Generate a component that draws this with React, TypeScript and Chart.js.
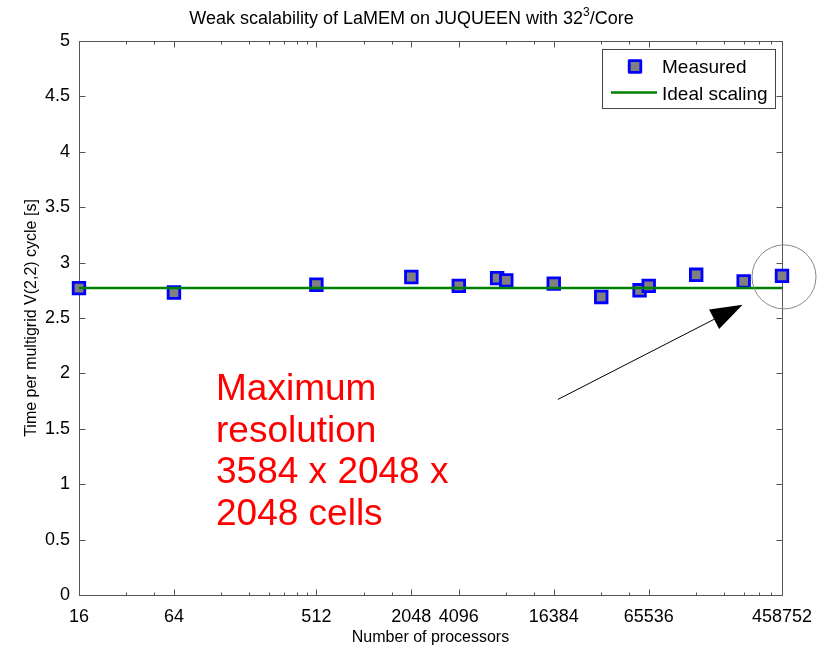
import React, { useEffect, useRef } from 'react';
import { Chart, registerables } from 'chart.js';

Chart.register(...registerables);

// Weak-scaling runs: processor count and time per V(2,2) multigrid cycle
const processors = [16, 64, 512, 2048, 4096, 7168, 8192, 16384, 32768, 57344, 65536, 131072, 262144, 458752];
const measuredTime = [2.77, 2.73, 2.80, 2.87, 2.79, 2.86, 2.84, 2.81, 2.69, 2.75, 2.79, 2.89, 2.83, 2.88];
const idealTime = 2.77;
const idealRange = [16, 458752];

// Axis ticks
const xTickValues = [16, 64, 512, 2048, 4096, 16384, 65536, 458752];
const xMinorTickValues = [32, 48, 128, 192, 256, 320, 384, 448, 1024, 1536, 8192, 12288, 32768, 49152, 131072, 196608, 262144, 327680, 393216];
const yTickValues = [0, 0.5, 1, 1.5, 2, 2.5, 3, 3.5, 4, 4.5, 5];

// Texts
const titleMain = 'Weak scalability of LaMEM on JUQUEEN with 32';
const titleSup = '3';
const titleEnd = '/Core';
const xAxisTitle = 'Number of processors';
const yAxisTitle = 'Time per multigrid V(2,2) cycle [s]';
const legendLabels = ['Measured', 'Ideal scaling'];
const noteLines = ['Maximum', 'resolution', '3584 x 2048 x', '2048 cells'];

// Annotation anchors in data units (processors, seconds)
const noteAnchor = { x: 120, y: 1.76 };
const arrowTail = { x: 17400, y: 1.765 };
const arrowTip = { x: 258000, y: 2.62 };

const FONT = '"Liberation Sans", Arial, Helvetica, sans-serif';
const MARKER_BLUE = '#0000ff';
const MARKER_FILL = '#808080';
const IDEAL_GREEN = '#008000';
const FRAME = '#555555';

function drawMarker(ctx: CanvasRenderingContext2D, x: number, y: number) {
  const s = 11.6;
  ctx.save();
  ctx.lineJoin = 'round';
  ctx.fillStyle = MARKER_FILL;
  ctx.strokeStyle = MARKER_BLUE;
  ctx.lineWidth = 2.8;
  ctx.beginPath();
  ctx.rect(x - s / 2, y - s / 2, s, s);
  ctx.fill();
  ctx.stroke();
  ctx.restore();
}

const figureDecor = {
  id: 'figureDecor',
  beforeDatasetsDraw(chart: any) {
    const { ctx, chartArea: a, scales } = chart;
    const xs = scales.x;
    const ys = scales.y;
    ctx.save();

    // axes box
    const L = a.left + 0.5;
    const R = a.right + 0.5;
    const T = a.top + 0.5;
    const B = a.bottom + 0.5;
    ctx.strokeStyle = FRAME;
    ctx.lineWidth = 1;
    ctx.beginPath();
    ctx.rect(L, T, R - L, B - T);
    ctx.stroke();

    // inward tick marks
    ctx.beginPath();
    const xTick = (v: number, len: number) => {
      const px = Math.round(xs.getPixelForValue(v)) + 0.5;
      ctx.moveTo(px, B);
      ctx.lineTo(px, B - len);
      ctx.moveTo(px, T);
      ctx.lineTo(px, T + len);
    };
    xTickValues.forEach((v) => xTick(v, 6));
    xMinorTickValues.forEach((v) => xTick(v, 3));
    yTickValues.forEach((v) => {
      const py = Math.round(ys.getPixelForValue(v)) + 0.5;
      ctx.moveTo(L, py);
      ctx.lineTo(L + 6, py);
      ctx.moveTo(R, py);
      ctx.lineTo(R - 6, py);
    });
    ctx.stroke();
    ctx.restore();
  },
  afterDraw(chart: any) {
    const { ctx, chartArea: a, scales } = chart;
    const xs = scales.x;
    const ys = scales.y;
    ctx.save();

    // circle around the largest run
    const last = processors.length - 1;
    const cx = xs.getPixelForValue(processors[last]) + 2;
    const cy = ys.getPixelForValue(measuredTime[last]) + 1;
    ctx.strokeStyle = '#888888';
    ctx.lineWidth = 1;
    ctx.beginPath();
    ctx.arc(cx, cy, 32, 0, Math.PI * 2);
    ctx.stroke();

    // arrow pointing at it
    const tx = xs.getPixelForValue(arrowTail.x);
    const ty = ys.getPixelForValue(arrowTail.y);
    const hx = xs.getPixelForValue(arrowTip.x);
    const hy = ys.getPixelForValue(arrowTip.y);
    const ang = Math.atan2(hy - ty, hx - tx);
    const headLen = 32;
    const headHalf = 11;
    const bx = hx - headLen * Math.cos(ang);
    const by = hy - headLen * Math.sin(ang);
    ctx.strokeStyle = '#000000';
    ctx.lineWidth = 1;
    ctx.beginPath();
    ctx.moveTo(tx, ty);
    ctx.lineTo(bx, by);
    ctx.stroke();
    ctx.fillStyle = '#000000';
    ctx.beginPath();
    ctx.moveTo(hx, hy);
    ctx.lineTo(bx - headHalf * Math.sin(ang), by + headHalf * Math.cos(ang));
    ctx.lineTo(bx + headHalf * Math.sin(ang), by - headHalf * Math.cos(ang));
    ctx.closePath();
    ctx.fill();

    // red note
    const nx = xs.getPixelForValue(noteAnchor.x);
    const ny = ys.getPixelForValue(noteAnchor.y);
    ctx.fillStyle = '#ff0000';
    ctx.font = `37px ${FONT}`;
    ctx.textAlign = 'left';
    ctx.textBaseline = 'alphabetic';
    noteLines.forEach((line, i) => ctx.fillText(line, nx - 1, ny + i * 41.7));

    // legend
    const lx = a.right - 180;
    const ly = a.top + 8.5;
    ctx.fillStyle = '#ffffff';
    ctx.fillRect(Math.round(lx) + 0.5, ly, 173, 59);
    ctx.strokeStyle = '#444444';
    ctx.lineWidth = 1;
    ctx.strokeRect(Math.round(lx) + 0.5, ly, 173, 59);
    drawMarker(ctx, lx + 33, ly + 17);
    ctx.strokeStyle = IDEAL_GREEN;
    ctx.lineWidth = 2.5;
    ctx.beginPath();
    ctx.moveTo(lx + 9, ly + 43);
    ctx.lineTo(lx + 55, ly + 43);
    ctx.stroke();
    ctx.fillStyle = '#000000';
    ctx.font = `19px ${FONT}`;
    ctx.textBaseline = 'middle';
    ctx.fillText(legendLabels[0], lx + 60, ly + 18);
    ctx.fillText(legendLabels[1], lx + 60, ly + 45);

    // title with superscript
    ctx.fillStyle = '#000000';
    ctx.textBaseline = 'alphabetic';
    const mainFont = `18px ${FONT}`;
    const supFont = `12px ${FONT}`;
    ctx.font = mainFont;
    const w1 = ctx.measureText(titleMain).width;
    const w3 = ctx.measureText(titleEnd).width;
    ctx.font = supFont;
    const w2 = ctx.measureText(titleSup).width;
    const total = w1 + w2 + w3;
    let x0 = 411.5 - total / 2;
    const tyBase = 24;
    ctx.font = mainFont;
    ctx.fillText(titleMain, x0, tyBase);
    x0 += w1;
    ctx.font = supFont;
    ctx.fillText(titleSup, x0, tyBase - 8);
    x0 += w2;
    ctx.font = mainFont;
    ctx.fillText(titleEnd, x0, tyBase);

    // axis titles
    ctx.font = `16px ${FONT}`;
    ctx.textAlign = 'center';
    ctx.textBaseline = 'middle';
    ctx.fillText(xAxisTitle, (a.left + a.right) / 2, 638);
    ctx.save();
    ctx.translate(32, (a.top + a.bottom) / 2);
    ctx.rotate(-Math.PI / 2);
    ctx.fillText(yAxisTitle, 0, 0);
    ctx.restore();

    ctx.restore();
  },
};

export default function App() {
  const canvasRef = useRef<HTMLCanvasElement | null>(null);

  useEffect(() => {
    const canvas = canvasRef.current;
    if (!canvas) return;

    const measuredPoints = processors.map((p, i) => ({ x: p, y: measuredTime[i] }));
    const idealPoints = idealRange.map((p) => ({ x: p, y: idealTime }));

    const chart = new Chart(canvas, {
      type: 'line',
      data: {
        datasets: [
          {
            label: legendLabels[1],
            data: idealPoints,
            borderColor: IDEAL_GREEN,
            borderWidth: 2.5,
            pointRadius: 0,
            fill: false,
            order: 0,
          },
          {
            label: legendLabels[0],
            data: measuredPoints,
            showLine: false,
            clip: false,
            pointStyle: 'rect',
            pointRadius: 8.2,
            pointBorderWidth: 2.8,
            pointBorderColor: MARKER_BLUE,
            pointBackgroundColor: MARKER_FILL,
            borderColor: MARKER_BLUE,
            backgroundColor: MARKER_FILL,
            order: 1,
          },
        ],
      },
      options: {
        responsive: false,
        animation: false,
        events: [],
        layout: { padding: { top: 41, right: 42, left: 0, bottom: 0 } },
        plugins: {
          legend: { display: false },
          title: { display: false },
          tooltip: { enabled: false },
        },
        scales: {
          x: {
            type: 'logarithmic',
            min: 16,
            max: 458752,
            grid: { display: false, drawTicks: false },
            border: { display: false },
            afterBuildTicks: (scale: any) => {
              scale.ticks = xTickValues.map((v) => ({ value: v }));
            },
            afterFit: (scale: any) => {
              scale.height = 54;
            },
            ticks: {
              autoSkip: false,
              maxRotation: 0,
              minRotation: 0,
              padding: 11,
              color: '#000000',
              font: { family: FONT, size: 18 },
              callback: (v: any) => String(v),
            },
          },
          y: {
            type: 'linear',
            min: 0,
            max: 5,
            grid: { display: false, drawTicks: false },
            border: { display: false },
            afterBuildTicks: (scale: any) => {
              scale.ticks = yTickValues.map((v) => ({ value: v }));
            },
            afterFit: (scale: any) => {
              scale.width = 79;
            },
            ticks: {
              padding: 9,
              color: '#000000',
              font: { family: FONT, size: 18 },
              callback: (v: any) => String(v),
            },
          },
        },
      },
      plugins: [figureDecor],
    } as any);

    return () => chart.destroy();
  }, []);

  return (
    <div style={{ position: 'absolute', left: 0, top: 0, width: 824, height: 649, background: '#ffffff' }}>
      <canvas ref={canvasRef} width={824} height={649} />
    </div>
  );
}
